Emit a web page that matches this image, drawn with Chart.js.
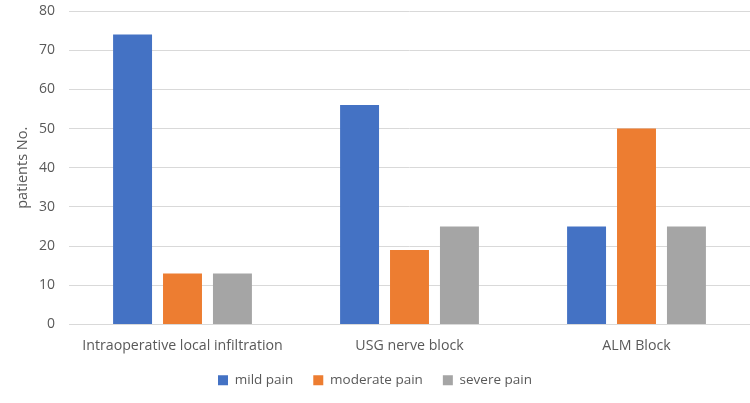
<!DOCTYPE html>
<html>
<head>
<meta charset="utf-8">
<script src="https://cdn.jsdelivr.net/npm/chart.js@4/dist/chart.umd.min.js"></script>
<style>
html,body{margin:0;padding:0;background:#fff;}
#wrap{width:750px;height:403px;position:relative;}
</style>
</head>
<body>
<div id="wrap"><canvas id="c" width="750" height="403"></canvas></div>
<script>
const categories = ["Intraoperative local infiltration", "USG nerve block", "ALM Block"];
const mildPain = [74, 56, 25];
const moderatePain = [13, 19, 50];
const severePain = [13, 25, 25];
const seriesNames = ["mild pain", "moderate pain", "severe pain"];
const yTitle = "patients No.";

const FONT = "'Open Sans', 'Liberation Sans', sans-serif";
const TXT = "#595959";

new Chart(document.getElementById('c'), {
  type: 'bar',
  data: {
    labels: categories,
    datasets: [
      {label: seriesNames[0], data: mildPain, backgroundColor: '#4472c4'},
      {label: seriesNames[1], data: moderatePain, backgroundColor: '#ed7d31'},
      {label: seriesNames[2], data: severePain, backgroundColor: '#a5a5a5'}
    ]
  },
  options: {
    responsive: false,
    animation: false,
    layout: {padding: {top: 11, right: 0, left: 0, bottom: 6}},
    datasets: {bar: {barPercentage: 0.78, categoryPercentage: 0.66}},
    plugins: {
      legend: {
        position: 'bottom',
        labels: {
          boxWidth: 10, boxHeight: 10, padding: 20,
          color: TXT, font: {family: FONT, size: 13.5}
        }
      },
      tooltip: {enabled: false}
    },
    scales: {
      x: {
        grid: {display: false},
        border: {display: true, color: '#d9d9d9'},
        ticks: {color: TXT, font: {family: FONT, size: 14.2}, padding: 5, maxRotation: 0},
        afterFit: s => { s.height = 29; }
      },
      y: {
        min: 0, max: 80,
        ticks: {stepSize: 10, color: TXT, font: {family: FONT, size: 14, lineHeight: 1}, padding: 0},
        grid: {color: '#d9d9d9', drawTicks: true, tickLength: 14, tickColor: 'rgba(0,0,0,0)'},
        border: {display: false},
        title: {display: true, text: yTitle, color: TXT, font: {family: FONT, size: 14.5}, padding: {top: 14, bottom: 0}},
        afterFit: s => { s.width = 69; }
      }
    }
  }
});
</script>
</body>
</html>
